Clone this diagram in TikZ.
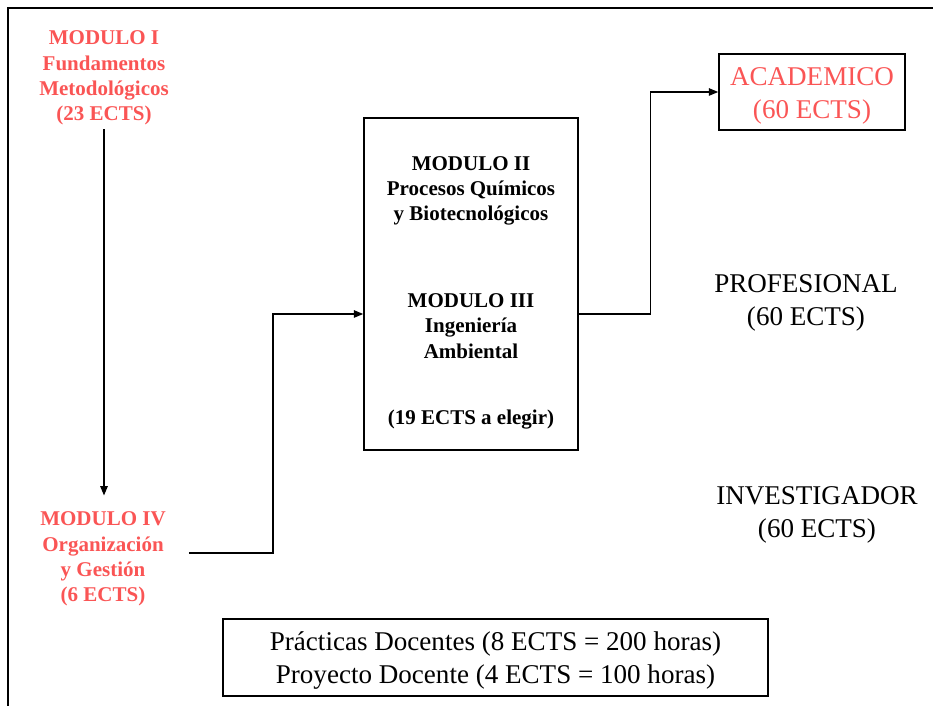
\documentclass[tikz,border=0pt]{standalone}
\usepackage{fontspec}
\setmainfont{Liberation Serif}
\usetikzlibrary{arrows.meta, positioning}
\definecolor{modred}{RGB}{250,85,85}

\tikzset{
  modtxt/.style={align=center, font=\fontsize{15.75}{19}\selectfont\bfseries, inner sep=3pt},
  bigtxt/.style={align=center, font=\fontsize{20.3}{24.75}\selectfont},
  boxed/.style={draw, line width=1.1pt},
  conn/.style={line width=1.1pt, -{Triangle[length=7pt,width=5.5pt]}},
}

\begin{document}
\begin{tikzpicture}[x=0.75pt, y=-0.75pt]
\useasboundingbox (0,0) rectangle (933,706);
% frame
\draw[line width=1.6pt] (8,720) -- (8,8) -- (945,8);

% left column
\node[modtxt, text=modred] (mI) at (104,78) {MODULO I\\Fundamentos\\Metodológicos\\(23 ECTS)};
\node[modtxt, text=modred] (mIV) at (103,559) {MODULO IV\\Organización\\y Gestión\\(6 ECTS)};

% middle box
\node[boxed, minimum width=160.5pt, minimum height=249pt] (mid) at (471,284) {};
\node[modtxt] (mII) at (471,191) {MODULO II\\Procesos Químicos\\y Biotecnológicos};
\node[modtxt] (mIII) at (471,326) {MODULO III\\Ingeniería\\Ambiental};
\node[modtxt] (elegir) at (471,420) {(19 ECTS a elegir)};

% profiles
\node[boxed, minimum width=139.5pt, minimum height=57pt] (acad) at (812,92) {};
\node[bigtxt, text=modred] (acadtxt) at (812,96) {ACADEMICO\\(60 ECTS)};
\node[bigtxt] (prof) at (806,303) {PROFESIONAL\\(60 ECTS)};
\node[bigtxt] (inv) at (817,515) {INVESTIGADOR\\(60 ECTS)};

% practicas
\node[boxed, minimum width=408.75pt, minimum height=57.75pt] (prac) at (495.5,657.5) {};
\node[bigtxt] (practxt) at (495.5,661) {Prácticas Docentes (8 ECTS = 200 horas)\\Proyecto Docente (4 ECTS = 100 horas)};

% connectors
\path (mid.west) ++(0,30) coordinate (midin);
\path (mid.east) ++(0,30) coordinate (midout);
\draw[conn, shorten >=9pt] (mI.south) -- (mI.south |- mIV.north);
\draw[conn] (mIV.east) ++(19,-6) -- +(84,0) |- (midin);
\draw[conn] (midout) -- +(72,0) |- (acad.west);
\end{tikzpicture}
\end{document}
